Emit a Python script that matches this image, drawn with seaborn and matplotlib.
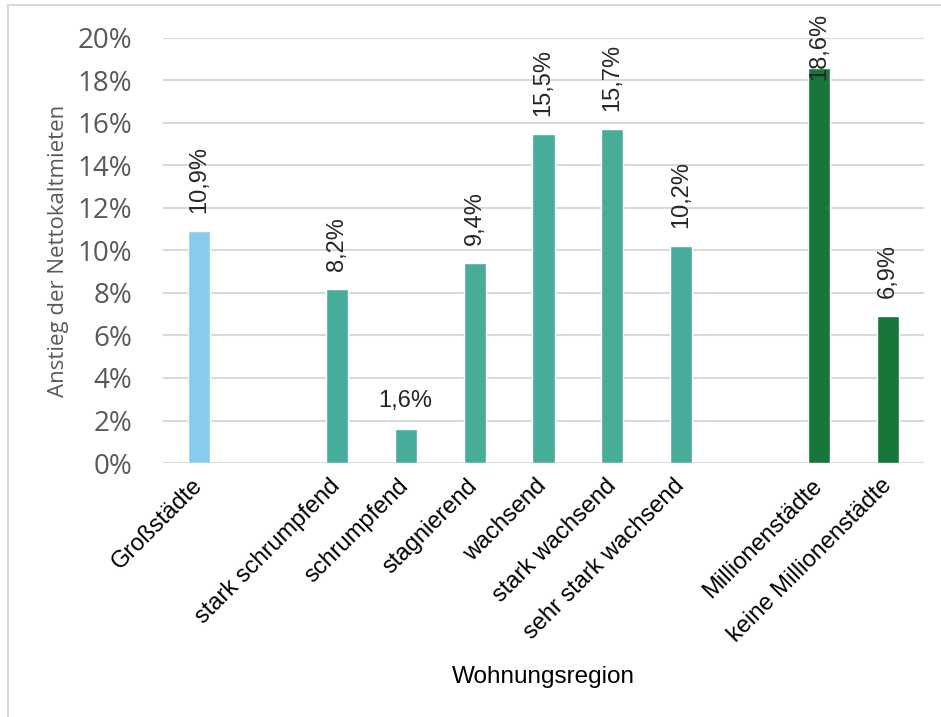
import pandas as pd
import numpy as np
import matplotlib.pyplot as plt
from matplotlib.lines import Line2D
import seaborn as sns

# categories (empty slots " " / "  " are gaps between groups)
regionen = ['Großstädte', ' ', 'stark schrumpfend', 'schrumpfend', 'stagnierend',
            'wachsend', 'stark wachsend', 'sehr stark wachsend', '  ',
            'Millionenstädte', 'keine Millionenstädte']
anstieg = [10.9, np.nan, 8.2, 1.6, 9.4, 15.5, 15.7, 10.2, np.nan, 18.6, 6.9]
gruppe = ['gross', 'leer', 'wachstum', 'wachstum', 'wachstum', 'wachstum',
          'wachstum', 'wachstum', 'leer', 'million', 'million']
farben = {'gross': '#88CBEC', 'wachstum': '#48AC9A', 'million': '#17773A', 'leer': '#FFFFFF'}

df = pd.DataFrame({'region': regionen, 'wert': anstieg, 'gruppe': gruppe})

sns.set_style('white')
plt.rcParams['font.family'] = ['Liberation Sans', 'DejaVu Sans']

fig = plt.figure(figsize=(9.41, 7.17), dpi=100)
ax = fig.add_axes([163 / 941, 1 - 463 / 717, (924 - 163) / 941, (463 - 38) / 717])

pal = {r: farben[g] for r, g in zip(regionen, gruppe)}
sns.barplot(data=df, x='region', y='wert', order=regionen, hue='region', palette=pal,
            legend=False, width=0.32, saturation=1, ax=ax)

ax.set_ylim(0, 20)
ax.set_xlim(-0.52, 10.52)
ax.set_yticks(range(0, 21, 2))
ax.set_yticklabels([f'{t}%' for t in range(0, 21, 2)], family=['Open Sans', 'DejaVu Sans'],
                   fontsize=20, color='#595959')
ax.yaxis.grid(True, color='#D9D9D9', linewidth=1.5)
ax.set_axisbelow(True)
for s in ax.spines.values():
    s.set_visible(False)
ax.tick_params(axis='y', length=0, pad=22)
ax.tick_params(axis='x', length=0, pad=14)

ax.set_xticks(range(len(regionen)))
ax.set_xticklabels(regionen, rotation=45, ha='right', va='center', rotation_mode='anchor',
                   fontsize=17, color='black')
ax.set_xlabel('Wohnungsregion', fontsize=17.5, color='black', labelpad=14)
ax.set_ylabel('Anstieg der Nettokaltmieten', family=['Open Sans', 'DejaVu Sans'],
              fontsize=16, color='#595959', labelpad=6)

for i, v in enumerate(anstieg):
    if np.isnan(v):
        continue
    txt = f'{v:.1f}%'.replace('.', ',')
    if v < 3:
        ax.annotate(txt, (i, v), xytext=(0, 12), textcoords='offset points',
                    ha='center', va='bottom', fontsize=17)
    elif v > 17:
        ax.annotate(txt, (i, v), xytext=(0, -9), textcoords='offset points',
                    ha='center', va='bottom', rotation=90, fontsize=17)
    else:
        ax.annotate(txt, (i, v), xytext=(0, 13), textcoords='offset points',
                    ha='center', va='bottom', rotation=90, fontsize=17)

# chart border (only top and left visible)
fig.add_artist(Line2D([8 / 941, 8 / 941], [0, 1 - 5 / 717], transform=fig.transFigure,
                      color='#D9D9D9', linewidth=1.5))
fig.add_artist(Line2D([8 / 941, 1], [1 - 5 / 717, 1 - 5 / 717], transform=fig.transFigure,
                      color='#D9D9D9', linewidth=1.5))

fig.savefig('out.png', dpi=100)
